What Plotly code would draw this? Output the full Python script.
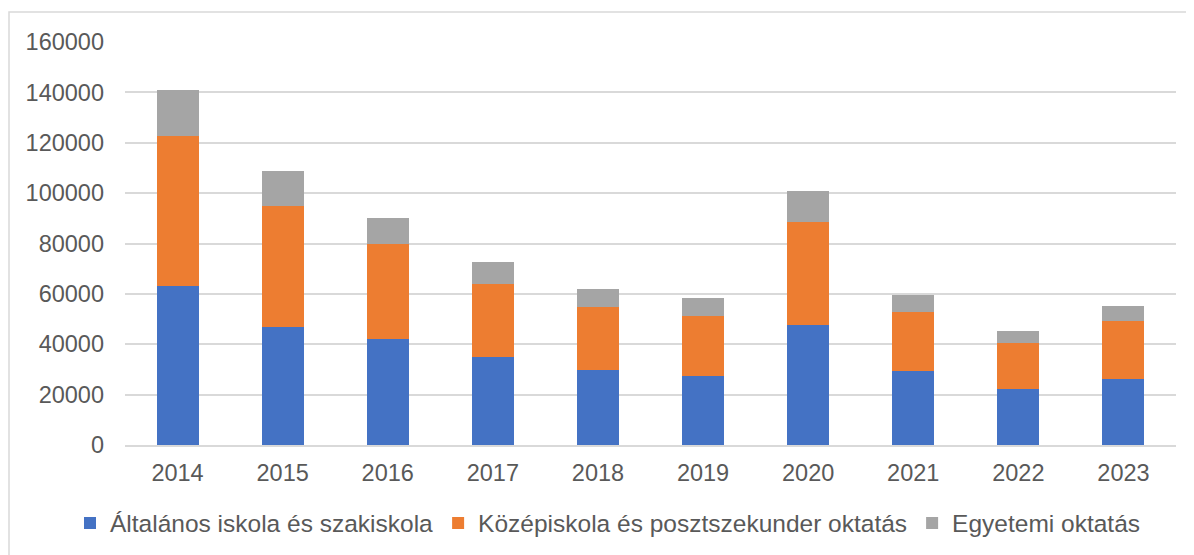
import plotly.graph_objects as go

years = ["2014", "2015", "2016", "2017", "2018", "2019", "2020", "2021", "2022", "2023"]
altalanos = [63200, 47000, 42200, 34800, 29800, 27500, 47700, 29500, 22300, 26200]
kozep = [59300, 48000, 37700, 29200, 25100, 23800, 40900, 23400, 18000, 23100]
egyetemi = [18500, 13600, 10300, 8700, 7000, 6900, 12200, 6700, 5100, 5700]
series_names = ["Általános iskola és szakiskola", "Középiskola és posztszekunder oktatás", "Egyetemi oktatás"]
colors = ["#4472C4", "#ED7D31", "#A5A5A5"]
y_ticks = [0, 20000, 40000, 60000, 80000, 100000, 120000, 140000, 160000]

fig = go.Figure()
for name, vals, col in zip(series_names, [altalanos, kozep, egyetemi], colors):
    fig.add_trace(go.Bar(x=years, y=vals, name=name, marker=dict(color=col, line=dict(width=0))))

OFF = 8  # page body margin
W, H = 1194 - OFF, 555 - OFF
ml, mr, mt, mb = 125 - OFF, 18, 42 - OFF, 110
pw = W - ml - mr
ph = H - mt - mb

fig.update_layout(
    width=W, height=H,
    barmode="stack", bargap=0.6,
    margin=dict(l=ml, r=mr, t=mt, b=mb, autoexpand=False),
    paper_bgcolor="white", plot_bgcolor="white",
    font=dict(family="Liberation Sans, Arial", size=23.5, color="#595959"),
    xaxis=dict(showgrid=False, showline=True, linecolor="#D9D9D9", linewidth=1.5, automargin=False,
               ticks="", tickfont=dict(size=23.5), ticklabelstandoff=6),
    yaxis=dict(range=[0, 160000], tickvals=y_ticks, ticktext=[str(v) for v in y_ticks], automargin=False,
               showgrid=True, gridcolor="#D9D9D9", gridwidth=1.5, zeroline=False,
               showline=False, ticks="", tickfont=dict(size=23.5), ticklabelstandoff=20),
    legend=dict(orientation="h", xanchor="left", x=(70 - 125) / pw,
                yanchor="middle", y=-(523 - 445) / ph,
                font=dict(size=24.5, color="#595959"), itemwidth=30,
                traceorder="normal", bgcolor="rgba(0,0,0,0)"),
    shapes=[dict(type="rect", xref="paper", yref="paper",
                 x0=(1 - ml) / pw, x1=(W + 5 - ml) / pw,
                 y0=-(H + 5 - mt - ph) / ph, y1=(mt + ph - (12 - OFF)) / ph,
                 line=dict(color="#D9D9D9", width=1.5), fillcolor="rgba(0,0,0,0)", layer="below")],
)

fig.write_html("out.html")
